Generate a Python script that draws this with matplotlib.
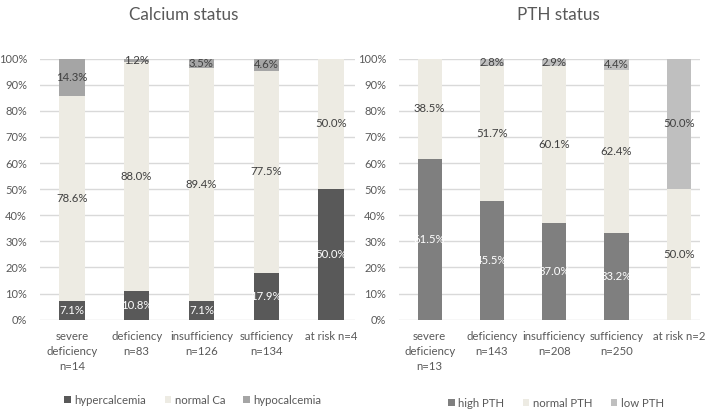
import matplotlib
matplotlib.use('Agg')
import matplotlib.pyplot as plt
import numpy as np

plt.rcParams['font.family'] = ['Lato', 'DejaVu Sans']

# Calcium status data (%)
ca_groups = ['severe\ndeficiency\nn=14', 'deficiency\nn=83', 'insufficiency\nn=126',
             'sufficiency\nn=134', 'at risk n=4']
ca_hyper = [7.1, 10.8, 7.1, 17.9, 50.0]
ca_normal = [78.6, 88.0, 89.4, 77.5, 50.0]
ca_hypo = [14.3, 1.2, 3.5, 4.6, 0.0]

# PTH status data (%)
pth_groups = ['severe\ndeficiency\nn=13', 'deficiency\nn=143', 'insufficiency\nn=208',
              'sufficiency\nn=250', 'at risk n=2']
pth_high = [61.5, 45.5, 37.0, 33.2, 0.0]
pth_normal = [38.5, 51.7, 60.1, 62.4, 50.0]
pth_low = [0.0, 2.8, 2.9, 4.4, 50.0]

TXT = '#595959'
GRID = '#D9D9D9'
BEIGE = '#EDEBE3'

fig = plt.figure(figsize=(7.12, 4.11), dpi=100)
ax1 = fig.add_axes([0.0555, 0.2222, 0.443, 0.635])
ax2 = fig.add_axes([0.5597, 0.2222, 0.4235, 0.635])


def stacked(ax, groups, series, colors, label_colors, names, xmax):
    x = np.arange(len(groups))
    bottom = np.zeros(len(groups))
    handles = []
    for vals, col, lcol, name in zip(series, colors, label_colors, names):
        vals = np.array(vals)
        h = ax.bar(x, vals, 0.39, bottom=bottom, color=col, label=name, zorder=2)
        handles.append(h)
        for xi, v, b in zip(x, vals, bottom):
            if v > 0:
                ax.text(xi, b + v / 2, f'{v:.1f}%', ha='center', va='center',
                        fontsize=8.2, color=lcol, zorder=3)
        bottom += vals
    ax.set_ylim(0, 100)
    ax.set_xlim(-0.5, xmax)
    ax.set_yticks(np.arange(0, 101, 10))
    ax.set_yticklabels([f'{v}%' for v in range(0, 101, 10)])
    ax.set_xticks(x)
    ax.set_xticklabels(groups, linespacing=1.45)
    ax.tick_params(axis='both', length=0, labelcolor=TXT)
    ax.tick_params(axis='y', pad=9, labelsize=8)
    ax.tick_params(axis='x', pad=8, labelsize=8.2)
    ax.grid(axis='y', color=GRID, lw=1, zorder=0)
    ax.set_axisbelow(True)
    for s in ax.spines.values():
        s.set_visible(False)
    return handles


h1 = stacked(ax1, ca_groups, [ca_hyper, ca_normal, ca_hypo],
             ['#595959', BEIGE, '#A5A5A5'], ['white', '#404040', '#404040'],
             ['hypercalcemia', 'normal Ca', 'hypocalcemia'], 4.37)
h2 = stacked(ax2, pth_groups, [pth_high, pth_normal, pth_low],
             ['#7F7F7F', BEIGE, '#BFBFBF'], ['white', '#404040', '#404040'],
             ['high PTH', 'normal PTH', 'low PTH'], 4.34)

fig.text(184 / 712, 1 - 15 / 411, 'Calcium status', ha='center', va='center',
         fontsize=12.3, color=TXT)
fig.text(558 / 712, 1 - 15 / 411, 'PTH status', ha='center', va='center',
         fontsize=12.3, color=TXT)

legkw = dict(ncol=3, frameon=False, fontsize=8.2, labelcolor=TXT,
             handlelength=0.6, handleheight=0.6, handletextpad=0.3,
             columnspacing=1.6, loc='center')
fig.legend(handles=h1, bbox_to_anchor=(193 / 712, 1 - 400 / 411), **legkw)
fig.legend(handles=h2, bbox_to_anchor=(556 / 712, 1 - 403 / 411), **legkw)

fig.savefig('out.png', dpi=100)
